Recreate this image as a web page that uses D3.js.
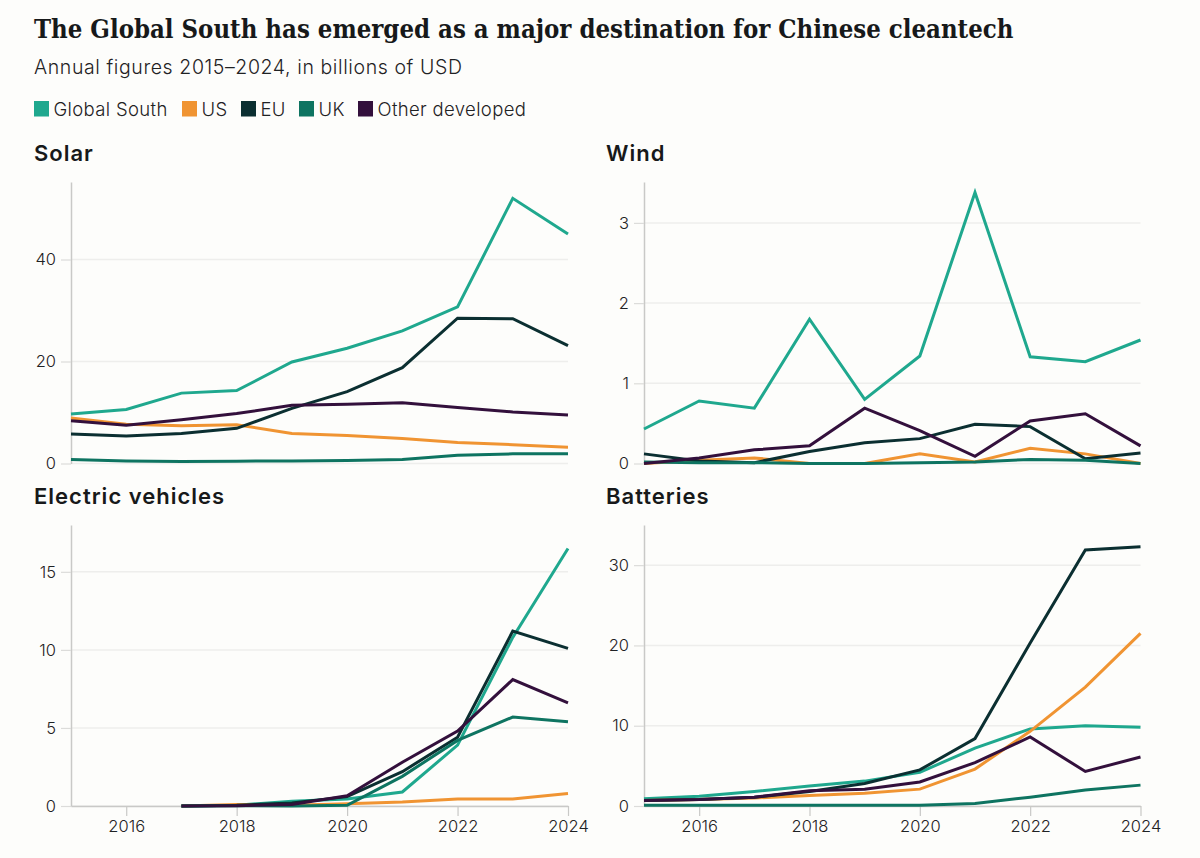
<!DOCTYPE html>
<html>
<head>
<meta charset="utf-8">
<script src="https://cdn.jsdelivr.net/npm/d3@7"></script>
<style>
  html, body { margin: 0; background: #fdfdfb; }
  svg { display: block; }
  text { font-family: 'Inter', sans-serif; fill: #1f2224; }
  .title { font-family: 'DejaVu Serif', serif; font-stretch: condensed; font-weight: 700; font-size: 25.5px; fill: #17191a; }
  .subtitle { font-size: 19.5px; font-weight: 300; letter-spacing: .6px; }
  .legend-label { font-size: 18.5px; font-weight: 300; letter-spacing: .35px; }
  .panel-title { font-size: 22px; font-weight: 600; letter-spacing: 1px; fill: #17191a; }
  .axis text { font-size: 16.5px; font-weight: 300; fill: #1f2224; }
</style>
</head>
<body>
<div id="chart"></div>
<script>
const years = [2015, 2016, 2017, 2018, 2019, 2020, 2021, 2022, 2023, 2024];
const seriesNames = ['Global South', 'US', 'EU', 'UK', 'Other developed'];
const seriesColors = ['#1fa88e', '#f09432', '#0b2f31', '#0e7461', '#33103c'];

const solarGS = [9.7, 10.6, 13.8, 14.3, 19.9, 22.6, 26, 30.7, 52, 45];
const solarUS = [8.9, 7.7, 7.4, 7.6, 5.9, 5.5, 4.9, 4.1, 3.7, 3.2];
const solarEU = [5.8, 5.4, 5.9, 6.9, 10.8, 14.1, 18.8, 28.5, 28.4, 23.1];
const solarUK = [0.8, 0.5, 0.4, 0.45, 0.5, 0.6, 0.8, 1.6, 1.9, 1.9];
const solarOther = [8.4, 7.5, 8.6, 9.8, 11.4, 11.6, 11.9, 11, 10.1, 9.5];

const windGS = [0.43, 0.78, 0.69, 1.8, 0.8, 1.34, 3.38, 1.33, 1.27, 1.54];
const windUS = [0, 0.04, 0.07, 0, 0, 0.12, 0.02, 0.19, 0.12, 0];
const windEU = [0.12, 0.03, 0.01, 0.15, 0.26, 0.31, 0.49, 0.46, 0.06, 0.13];
const windUK = [0.02, 0.01, 0.01, 0, 0, 0.01, 0.02, 0.05, 0.04, 0];
const windOther = [0, 0.07, 0.17, 0.22, 0.69, 0.41, 0.09, 0.53, 0.62, 0.22];

const evGS = [null, null, 0, 0.05, 0.3, 0.45, 0.9, 3.9, 10.8, 16.5];
const evUS = [null, null, 0, 0.1, 0.05, 0.15, 0.25, 0.45, 0.45, 0.8];
const evEU = [null, null, 0, 0.05, 0.2, 0.6, 2.2, 4.4, 11.2, 10.1];
const evUK = [null, null, 0, 0.02, 0, 0.05, 1.9, 4.2, 5.7, 5.4];
const evOther = [null, null, 0, 0.02, 0.1, 0.65, 2.8, 4.8, 8.1, 6.6];

const batGS = [0.9, 1.2, 1.8, 2.5, 3.1, 4.2, 7.2, 9.6, 10, 9.8];
const batUS = [0.7, 0.8, 1, 1.3, 1.6, 2.1, 4.6, 9.3, 14.8, 21.5];
const batEU = [0.7, 0.8, 1.1, 1.8, 2.8, 4.5, 8.4, 20.3, 31.9, 32.3];
const batUK = [0.1, 0.1, 0.1, 0.1, 0.1, 0.1, 0.3, 1.1, 2, 2.6];
const batOther = [0.7, 0.8, 1.1, 1.9, 2.1, 3, 5.4, 8.6, 4.3, 6.1];

const xTicks = [2016, 2018, 2020, 2022, 2024];
const solarTicks = [0, 20, 40];
const windTicks = [0, 1, 2, 3];
const evTicks = [0, 5, 10, 15];
const batTicks = [0, 10, 20, 30];

const W = 1200;
const H = 858;

const panels = [
  { name: 'Solar', values: [solarGS, solarUS, solarEU, solarUK, solarOther], ticks: solarTicks, max: 55.2, x0: 71, x1: 568, top: 182, bottom: 463.5, xAxis: false },
  { name: 'Wind', values: [windGS, windUS, windEU, windUK, windOther], ticks: windTicks, max: 3.51, x0: 644, x1: 1140.5, top: 182, bottom: 463.5, xAxis: false },
  { name: 'Electric vehicles', values: [evGS, evUS, evEU, evUK, evOther], ticks: evTicks, max: 18, x0: 71, x1: 568, top: 525, bottom: 806, xAxis: true },
  { name: 'Batteries', values: [batGS, batUS, batEU, batUK, batOther], ticks: batTicks, max: 35, x0: 644, x1: 1140.5, top: 525, bottom: 806, xAxis: true }
];

const svg = d3.select('#chart').append('svg')
  .attr('width', W)
  .attr('height', H);

svg.append('text')
  .attr('class', 'title')
  .attr('x', 34)
  .attr('y', 38)
  .text('The Global South has emerged as a major destination for Chinese cleantech');

svg.append('text')
  .attr('class', 'subtitle')
  .attr('x', 34)
  .attr('y', 74)
  .text('Annual figures 2015\u20132024, in billions of USD');

// legend, offsets
const legendX = [34, 182, 241, 299, 358];
const legend = svg.selectAll('.legend')
  .data(seriesNames)
  .enter().append('g')
  .attr('class', 'legend')
  .attr('transform', (d, i) => `translate(${legendX[i]}, 101)`);

legend.append('rect')
  .attr('width', 15)
  .attr('height', 15.5)
  .attr('fill', (d, i) => seriesColors[i]);

legend.append('text')
  .attr('class', 'legend-label')
  .attr('x', 19.5)
  .attr('y', 14.5)
  .text(d => d);

panels.forEach(p => {
  const x = d3.scaleLinear().domain([2015, 2024]).range([p.x0, p.x1]);
  const y = d3.scaleLinear().domain([0, p.max]).range([p.bottom, p.top]);

  const plot = svg.append('g').attr('class', 'plot');

  plot.append('text')
    .attr('class', 'panel-title')
    .attr('x', p.x0 === 71 ? 34 : 606)
    .attr('y', p.top - 21)
    .text(p.name);

  // gridlines
  plot.selectAll('.grid')
    .data(p.ticks)
    .enter().append('line')
    .attr('class', 'grid')
    .attr('x1', p.x0)
    .attr('x2', p.x1)
    .attr('y1', d => y(d))
    .attr('y2', d => y(d))
    .attr('stroke', '#eeeeec')
    .attr('stroke-width', 1.5);

  const axisY = d3.axisLeft(y)
    .tickValues(p.ticks)
    .tickSize(10)
    .tickSizeOuter(0)
    .tickPadding(5)
    .tickFormat(d3.format('d'));

  const gy = plot.append('g')
    .attr('class', 'axis axis-y')
    .attr('transform', `translate(${p.x0}, 0)`)
    .call(axisY);
  gy.select('.domain').attr('stroke', '#c9c9c7').attr('stroke-width', 1.5);
  gy.selectAll('.tick line').attr('stroke', '#dcdcda').attr('stroke-width', 1.2);

  if (p.xAxis) {
    const axisX = d3.axisBottom(x)
      .tickValues(xTicks)
      .tickSize(10)
      .tickPadding(4)
      .tickSizeOuter(0)
      .tickFormat(d3.format('d'));

    const gx = plot.append('g')
      .attr('class', 'axis axis-x')
      .attr('transform', `translate(0, ${p.bottom})`)
      .call(axisX);
    gx.select('.domain').attr('stroke', '#c9c9c7').attr('stroke-width', 1.5);
    gx.selectAll('.tick line').attr('stroke', '#c9c9c7').attr('stroke-width', 1.2);
  }

  const line = d3.line()
    .defined(d => d != null)
    .x((d, i) => x(years[i]))
    .y(d => y(d));

  plot.selectAll('.series')
    .data(p.values)
    .enter().append('path')
    .attr('class', 'series')
    .attr('fill', 'none')
    .attr('stroke', (d, i) => seriesColors[i])
    .attr('stroke-width', 3)
    .attr('d', line);
});
</script>
</body>
</html>
